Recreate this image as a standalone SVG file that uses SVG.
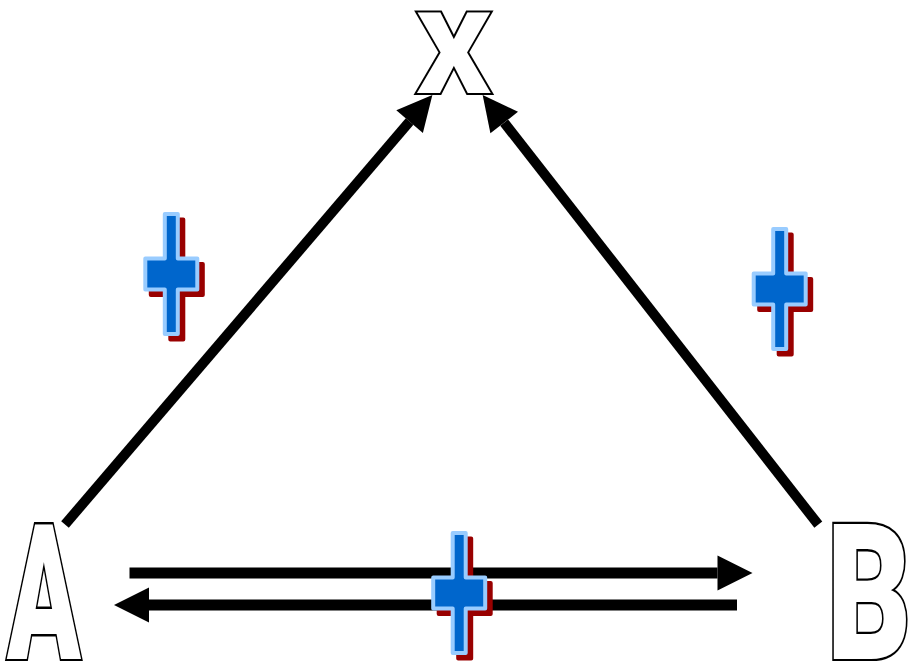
<svg xmlns="http://www.w3.org/2000/svg" width="909" height="661" viewBox="0 0 909 661">
  <style>
    .label { font-family: Roboto, "Liberation Sans", Arial, sans-serif; font-weight: 900; fill: #ffffff; stroke: #000000; stroke-width: 4; stroke-linejoin: miter; paint-order: stroke; text-anchor: middle; }
    .edge { fill: none; stroke: #000000; stroke-linecap: butt; }
    .plus-shadow { fill: #990000; stroke: #990000; stroke-width: 4; stroke-linejoin: round; }
    .plus-face { fill: #0066cc; stroke: #99ccff; stroke-width: 4; stroke-linejoin: round; }
  </style>
  <defs>
    <marker id="head" markerUnits="userSpaceOnUse" markerWidth="36" markerHeight="36" refX="0" refY="17.5" orient="auto" overflow="visible">
      <path d="M0,0 L35,17.5 L0,35 Z" fill="#000000"/>
    </marker>
    <!-- plus sign centred on the origin -->
    <path id="plus" d="M-6.5,-60 H6.5 V-15.5 H26 V15.5 H6.5 V60 H-6.5 V15.5 H-26 V-15.5 H-6.5 Z"/>
  </defs>
  <rect width="909" height="661" fill="#ffffff"/>

  <!-- connectors -->
  <g id="connectors">
    <line class="edge" x1="65" y1="524.5" x2="409.6" y2="121.6" stroke-width="10" marker-end="url(#head)"/>
    <line class="edge" x1="818.3" y1="524.7" x2="504.2" y2="122.6" stroke-width="10" marker-end="url(#head)"/>
    <line class="edge" x1="129.5" y1="573" x2="717.5" y2="573" stroke-width="11" marker-end="url(#head)"/>
    <line class="edge" x1="737" y1="605" x2="149" y2="605" stroke-width="11" marker-end="url(#head)"/>
  </g>

  <!-- nodes -->
  <g id="node-x">
    <text class="label" transform="translate(454,93) scale(1.02,1)" font-size="114" vector-effect="non-scaling-stroke">X</text>
  </g>
  <g id="node-a">
    <text class="label" transform="translate(44,659) scale(0.57,1)" font-size="190" vector-effect="non-scaling-stroke">A</text>
  </g>
  <g id="node-b">
    <text class="label" transform="translate(869,659) scale(0.69,1)" font-size="190" vector-effect="non-scaling-stroke">B</text>
  </g>

  <!-- plus marks on the edges -->
  <g id="plus-ax" transform="translate(171.3,274)">
    <use href="#plus" class="plus-shadow" transform="translate(5.5,5.5)"/>
    <use href="#plus" class="plus-face"/>
  </g>
  <g id="plus-bx" transform="translate(779.7,289)">
    <use href="#plus" class="plus-shadow" transform="translate(5.5,5.5)"/>
    <use href="#plus" class="plus-face"/>
  </g>
  <g id="plus-ab" transform="translate(459.2,593)">
    <use href="#plus" class="plus-shadow" transform="translate(5.5,5.5)"/>
    <use href="#plus" class="plus-face"/>
  </g>
</svg>
